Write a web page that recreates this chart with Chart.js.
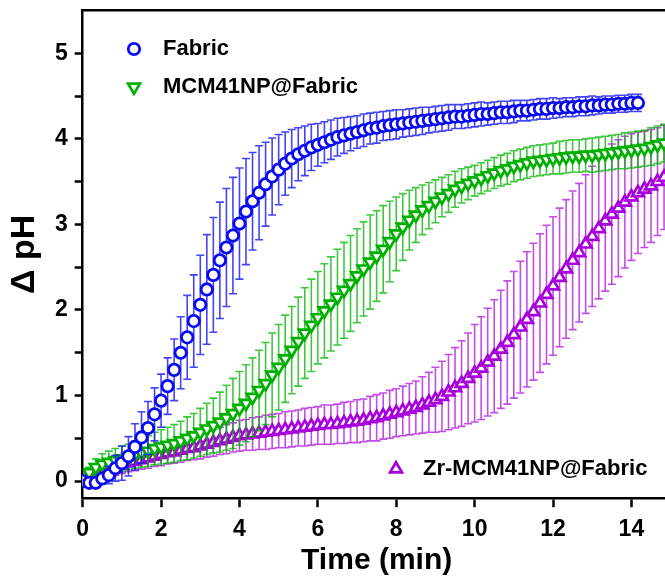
<!DOCTYPE html>
<html lang="en">

<head>
    <meta charset="UTF-8">
    <title>Delta pH</title>
    <script src="https://cdn.jsdelivr.net/npm/chart.js"></script>
    <style>
        html, body { margin: 0; padding: 0; background: #fff; overflow: hidden; }
        #box { width: 720px; height: 585px; }
    </style>
</head>

<body>
    <!-- the plot runs to 15 min, a bit wider than the page -->
    <div id="box"><canvas id="grafico" width="720" height="585"></canvas></div>

<script>
    // one reading every 10 s
    const timeSec = [
        0, 10, 20, 30, 40, 50, 60, 70, 80, 90,
        100, 110, 120, 130, 140, 150, 160, 170, 180, 190,
        200, 210, 220, 230, 240, 250, 260, 270, 280, 290,
        300, 310, 320, 330, 340, 350, 360, 370, 380, 390,
        400, 410, 420, 430, 440, 450, 460, 470, 480, 490,
        500, 510, 520, 530, 540, 550, 560, 570, 580, 590,
        600, 610, 620, 630, 640, 650, 660, 670, 680, 690,
        700, 710, 720, 730, 740, 750, 760, 770, 780, 790,
        800, 810, 820, 830, 840, 850, 860, 870, 880, 890
    ];

    const fabric = [
        0.00, -0.02, -0.02, 0.03, 0.07, 0.15, 0.21, 0.29, 0.40, 0.51,
        0.62, 0.78, 0.94, 1.11, 1.30, 1.50, 1.68, 1.87, 2.06, 2.24,
        2.41, 2.58, 2.73, 2.87, 3.01, 3.15, 3.27, 3.37, 3.47, 3.56,
        3.64, 3.71, 3.77, 3.82, 3.86, 3.90, 3.93, 3.96, 3.99, 4.02,
        4.04, 4.06, 4.08, 4.10, 4.12, 4.13, 4.15, 4.16, 4.17, 4.18,
        4.19, 4.20, 4.21, 4.22, 4.23, 4.24, 4.25, 4.26, 4.26, 4.27,
        4.28, 4.29, 4.29, 4.30, 4.31, 4.31, 4.32, 4.33, 4.33, 4.34,
        4.35, 4.35, 4.36, 4.36, 4.37, 4.37, 4.38, 4.38, 4.39, 4.39,
        4.40, 4.40, 4.41, 4.41, 4.42, 4.42
    ];
    const fabricSd = [
        0.00, 0.02, 0.03, 0.05, 0.10, 0.15, 0.20, 0.23, 0.27, 0.30,
        0.31, 0.31, 0.31, 0.33, 0.36, 0.42, 0.49, 0.54, 0.58, 0.64,
        0.67, 0.68, 0.69, 0.68, 0.65, 0.62, 0.57, 0.55, 0.49, 0.45,
        0.41, 0.37, 0.34, 0.31, 0.29, 0.27, 0.25, 0.24, 0.23, 0.22,
        0.21, 0.20, 0.19, 0.19, 0.18, 0.18, 0.17, 0.17, 0.17, 0.16,
        0.16, 0.16, 0.16, 0.15, 0.15, 0.15, 0.15, 0.14, 0.14, 0.14,
        0.14, 0.14, 0.13, 0.13, 0.13, 0.13, 0.13, 0.12, 0.12, 0.12,
        0.12, 0.12, 0.12, 0.11, 0.11, 0.11, 0.11, 0.11, 0.11, 0.10,
        0.10, 0.10, 0.10, 0.10, 0.10, 0.10
    ];

    const mcm = [
        0.02, 0.10, 0.16, 0.20, 0.22, 0.24, 0.26, 0.28, 0.31, 0.33,
        0.35, 0.38, 0.40, 0.42, 0.44, 0.47, 0.50, 0.53, 0.57, 0.61,
        0.65, 0.69, 0.74, 0.79, 0.85, 0.91, 0.98, 1.06, 1.14, 1.24,
        1.33, 1.43, 1.53, 1.63, 1.73, 1.82, 1.91, 1.99, 2.07, 2.15,
        2.23, 2.31, 2.40, 2.48, 2.56, 2.63, 2.71, 2.80, 2.89, 2.97,
        3.05, 3.11, 3.17, 3.22, 3.27, 3.32, 3.36, 3.41, 3.45, 3.48,
        3.51, 3.54, 3.57, 3.60, 3.63, 3.65, 3.68, 3.70, 3.72, 3.74,
        3.75, 3.76, 3.77, 3.78, 3.79, 3.80, 3.80, 3.81, 3.81, 3.82,
        3.83, 3.84, 3.85, 3.86, 3.87, 3.88, 3.89, 3.91, 3.93, 3.95
    ];
    const mcmSd = [
        0.02, 0.06, 0.10, 0.12, 0.13, 0.14, 0.15, 0.15, 0.16, 0.17,
        0.18, 0.19, 0.20, 0.21, 0.22, 0.23, 0.25, 0.26, 0.28, 0.30,
        0.32, 0.35, 0.38, 0.41, 0.43, 0.45, 0.46, 0.47, 0.48, 0.49,
        0.50, 0.51, 0.51, 0.52, 0.53, 0.54, 0.54, 0.55, 0.55, 0.56,
        0.56, 0.56, 0.55, 0.55, 0.55, 0.53, 0.51, 0.47, 0.43, 0.39,
        0.35, 0.32, 0.29, 0.27, 0.25, 0.23, 0.22, 0.21, 0.20, 0.19,
        0.18, 0.18, 0.18, 0.18, 0.18, 0.18, 0.18, 0.18, 0.18, 0.18,
        0.18, 0.18, 0.18, 0.19, 0.19, 0.19, 0.19, 0.19, 0.20, 0.20,
        0.20, 0.20, 0.20, 0.21, 0.21, 0.21, 0.21, 0.22, 0.22, 0.22
    ];

    const zr = [
        0.00, 0.01, 0.04, 0.07, 0.11, 0.15, 0.18, 0.21, 0.23, 0.25,
        0.27, 0.29, 0.31, 0.33, 0.34, 0.36, 0.38, 0.39, 0.41, 0.43,
        0.45, 0.47, 0.49, 0.51, 0.53, 0.54, 0.55, 0.56, 0.57, 0.58,
        0.59, 0.60, 0.61, 0.62, 0.63, 0.64, 0.65, 0.66, 0.66, 0.67,
        0.68, 0.69, 0.70, 0.71, 0.73, 0.74, 0.76, 0.78, 0.80, 0.82,
        0.84, 0.86, 0.89, 0.92, 0.95, 0.99, 1.04, 1.09, 1.14, 1.20,
        1.26, 1.32, 1.39, 1.46, 1.54, 1.62, 1.71, 1.80, 1.89, 1.98,
        2.08, 2.18, 2.28, 2.38, 2.48, 2.58, 2.67, 2.77, 2.86, 2.95,
        3.04, 3.12, 3.19, 3.26, 3.32, 3.37, 3.41, 3.45, 3.50, 3.55
    ];
    const zrSd = [
        0.00, 0.02, 0.04, 0.06, 0.07, 0.08, 0.09, 0.10, 0.11, 0.11,
        0.12, 0.12, 0.13, 0.13, 0.13, 0.14, 0.14, 0.14, 0.15, 0.15,
        0.16, 0.16, 0.17, 0.17, 0.18, 0.18, 0.19, 0.19, 0.20, 0.20,
        0.20, 0.21, 0.21, 0.21, 0.22, 0.22, 0.22, 0.23, 0.23, 0.23,
        0.24, 0.24, 0.25, 0.25, 0.26, 0.27, 0.27, 0.28, 0.28, 0.29,
        0.30, 0.31, 0.33, 0.35, 0.38, 0.41, 0.44, 0.47, 0.50, 0.53,
        0.57, 0.60, 0.63, 0.66, 0.69, 0.72, 0.74, 0.77, 0.79, 0.80,
        0.81, 0.81, 0.81, 0.81, 0.81, 0.81, 0.81, 0.81, 0.82, 0.82,
        0.82, 0.82, 0.80, 0.77, 0.74, 0.71, 0.68, 0.66, 0.63, 0.61
    ];

    const xTicks = [0, 2, 4, 6, 8, 10, 12, 14];
    const yTicks = [0, 0.5, 1, 1.5, 2, 2.5, 3, 3.5, 4, 4.5, 5];

    const desvios = [fabricSd, mcmSd, zrSd];
    const fonte = 'Liberation Sans';

    function pontos(valores) {
        return valores.map(function (v, i) {
            return { x: timeSec[i] / 60, y: v };
        });
    }

    // mean +/- SD bars, drawn just under each series' own markers
    const errorBars = {
        id: 'errorBars',
        beforeDatasetDraw(chart, args) {
            const sd = desvios[args.index];
            const ds = chart.data.datasets[args.index];
            const xs = chart.scales.x;
            const ys = chart.scales.y;
            const area = chart.chartArea;
            const ctx = chart.ctx;
            ctx.save();
            ctx.beginPath();
            ctx.rect(area.left, area.top, area.right - area.left, area.bottom - area.top);
            ctx.clip();
            ctx.strokeStyle = ds.barColor;
            ctx.lineWidth = 1.6;
            ctx.beginPath();
            ds.data.forEach(function (p, i) {
                const x = xs.getPixelForValue(p.x);
                const y1 = ys.getPixelForValue(p.y + sd[i]);
                const y2 = ys.getPixelForValue(p.y - sd[i]);
                ctx.moveTo(x, y1); ctx.lineTo(x, y2);
                ctx.moveTo(x - 4, y1); ctx.lineTo(x + 4, y1);
                ctx.moveTo(x - 4, y2); ctx.lineTo(x + 4, y2);
            });
            ctx.stroke();
            ctx.restore();
        }
    };

    // legend entries are split: two top left, one bottom right
    const legendas = [
        { idx: 0, text: 'Fabric', mx: 134, tx: 163, y: 49 },
        { idx: 1, text: 'MCM41NP@Fabric', mx: 134, tx: 163, y: 87 },
        { idx: 2, text: 'Zr-MCM41NP@Fabric', mx: 396, tx: 423, y: 469 }
    ];

    const legendaSolta = {
        id: 'legendaSolta',
        afterDraw(chart) {
            const ctx = chart.ctx;
            legendas.forEach(function (l) {
                const ds = chart.data.datasets[l.idx];
                ctx.save();
                ctx.strokeStyle = ds.borderColor;
                ctx.fillStyle = '#fff';
                ctx.lineWidth = ds.pointBorderWidth;
                Chart.helpers.drawPoint(ctx, {
                    pointStyle: ds.pointStyle,
                    rotation: ds.pointRotation || 0,
                    radius: ds.pointRadius,
                    borderWidth: ds.pointBorderWidth
                }, l.mx, l.y);
                ctx.fillStyle = '#000';
                ctx.font = 'bold 22px "' + fonte + '"';
                ctx.textBaseline = 'middle';
                ctx.textAlign = 'left';
                ctx.fillText(l.text, l.tx, l.y);
                ctx.restore();
            });
        }
    };

    const tickFont = { family: fonte, size: 23, weight: 'bold' };

    const config = {
        type: 'scatter',
        data: {
            datasets: [{
                label: 'Fabric',
                data: pontos(fabric),
                pointStyle: 'circle',
                pointRadius: 5.7,
                pointBorderWidth: 2.8,
                borderColor: '#0a0af0',
                backgroundColor: '#ffffff',
                barColor: 'rgba(20, 20, 245, 0.8)'
            }, {
                label: 'MCM41NP@Fabric',
                data: pontos(mcm),
                pointStyle: 'triangle',
                pointRotation: 180,
                pointRadius: 6.8,
                pointBorderWidth: 2.7,
                borderColor: '#00b000',
                backgroundColor: '#ffffff',
                barColor: 'rgba(0, 180, 0, 0.75)'
            }, {
                label: 'Zr-MCM41NP@Fabric',
                data: pontos(zr),
                pointStyle: 'triangle',
                pointRadius: 6.8,
                pointBorderWidth: 2.7,
                borderColor: '#a800dc',
                backgroundColor: '#ffffff',
                barColor: 'rgba(170, 0, 220, 0.7)'
            }]
        },
        options: {
            responsive: false,
            animation: false,
            layout: { autoPadding: false, padding: { left: 0, top: 10.5, right: 49.4, bottom: 0 } },
            plugins: { legend: { display: false }, tooltip: { enabled: false } },
            scales: {
                x: {
                    type: 'linear', position: 'bottom', min: 0, max: 15,
                    afterBuildTicks: function (s) { s.ticks = xTicks.map(v => ({ value: v })); },
                    afterFit: function (s) { s.height = 86.8; s.paddingLeft = 0; s.paddingRight = 0; },
                    grid: { drawOnChartArea: false, tickLength: 9, tickWidth: 2.5, tickColor: '#000' },
                    border: { color: '#000', width: 2.5 },
                    ticks: { color: '#000', font: tickFont, padding: 9, maxRotation: 0 },
                    title: {
                        display: true, text: 'Time (min)', color: '#000',
                        font: { family: fonte, size: 30, weight: 'bold' }, padding: { top: 0, bottom: 6 }
                    }
                },
                x2: {
                    type: 'linear', position: 'top', min: 0, max: 15,
                    afterBuildTicks: function (s) { s.ticks = []; },
                    afterFit: function (s) { s.height = 0; s.paddingLeft = 0; s.paddingRight = 0; },
                    grid: { display: false, drawTicks: false },
                    border: { color: '#000', width: 2.5 },
                    ticks: { display: false }
                },
                y: {
                    type: 'linear', min: -0.2, max: 5.5,
                    afterBuildTicks: function (s) { s.ticks = yTicks.map(v => ({ value: v })); },
                    afterFit: function (s) { s.width = 82.7; s.paddingTop = 0; s.paddingBottom = 0; },
                    grid: { drawOnChartArea: false, tickLength: 8, tickWidth: 2.5, tickColor: '#000' },
                    border: { color: '#000', width: 2.5 },
                    ticks: {
                        color: '#000', font: tickFont, padding: 7,
                        callback: function (v) { return Number.isInteger(v) ? v : ''; }
                    },
                    title: {
                        display: true, text: 'Δ pH', color: '#000',
                        font: { family: fonte, size: 34, weight: 'bold' }, padding: { top: 4, bottom: 0 }
                    }
                }
            }
        },
        plugins: [errorBars, legendaSolta]
    };

    new Chart(document.getElementById('grafico'), config);
</script>
</body>

</html>
